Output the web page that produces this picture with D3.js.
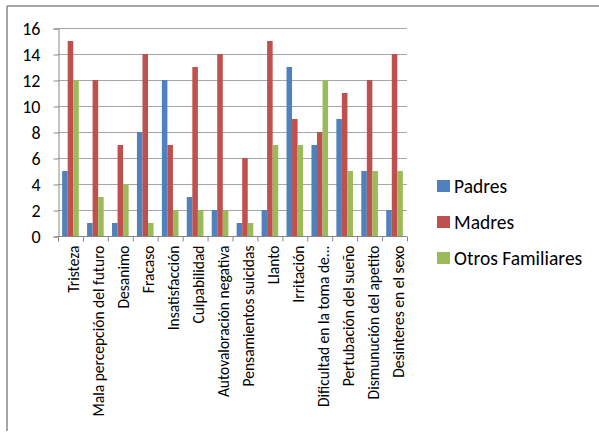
<!DOCTYPE html>
<html>
<head>
<meta charset="utf-8">
<script src="https://cdn.jsdelivr.net/npm/d3@7"></script>
<style>
  body { margin: 0; background: #fff; }
  text { font-family: Carlito, "Open Sans", "Noto Sans", sans-serif; fill: #000; }
</style>
</head>
<body>
<svg id="drawing_region"></svg>
<script>
const categories = ["Tristeza", "Mala percepción del futuro", "Desanimo", "Fracaso", "Insatisfacción",
    "Culpabilidad", "Autovaloración negativa", "Pensamientos suicidas", "Llanto", "Irritación",
    "Dificultad en la toma de...", "Pertubación del sueño", "Dismunución del apetito", "Desinteres en el sexo"];
const seriesNames = ["Padres", "Madres", "Otros Familiares"];
const padres = [5, 1, 1, 8, 12, 3, 2, 1, 2, 13, 7, 9, 5, 2];
const madres = [15, 12, 7, 14, 7, 13, 14, 6, 15, 9, 8, 11, 12, 14];
const otros = [12, 3, 4, 1, 2, 2, 2, 1, 7, 7, 12, 5, 5, 5];
const yTicks = [0, 2, 4, 6, 8, 10, 12, 14, 16];
const colors = ["#4F81BD", "#C0504D", "#9BBB59"];

const config = { width: 599, height: 433, left: 58, right: 407, top: 28, bottom: 236 };

const data = categories.map((c, i) => ({ cat: c, values: [padres[i], madres[i], otros[i]] }));

const svg = d3.select('#drawing_region')
    .attr('width', config.width)
    .attr('height', config.height);

// outer frame (top + left only visible)
svg.append('line').attr('x1', 7).attr('x2', 599).attr('y1', 6).attr('y2', 6)
    .attr('stroke', '#888').attr('stroke-width', 1.5);
svg.append('line').attr('x1', 7).attr('x2', 7).attr('y1', 6).attr('y2', 431)
    .attr('stroke', '#888').attr('stroke-width', 1.5);

const x0 = d3.scaleBand()
    .domain(categories)
    .range([config.left, config.right]);

const x1 = d3.scaleBand()
    .domain(seriesNames)
    .range([0, x0.bandwidth()])
    .paddingInner(0)
    .paddingOuter(0.75);

const y = d3.scaleLinear()
    .domain([0, 16])
    .range([config.bottom, config.top]);

// gridlines
svg.append('g')
    .selectAll('line')
    .data(yTicks.filter(d => d > 0))
    .join('line')
    .attr('x1', config.left).attr('x2', config.right)
    .attr('y1', d => y(d) + 0.5).attr('y2', d => y(d) + 0.5)
    .attr('stroke', '#a6a6a6');

// y axis
const yAxis = svg.append('g')
    .attr('transform', `translate(${config.left + 0.5},0.5)`)
    .call(d3.axisLeft(y).tickValues(yTicks).tickSize(5).tickPadding(13));
yAxis.select('.domain').attr('stroke', '#888');
yAxis.selectAll('.tick line').attr('stroke', '#888');
yAxis.selectAll('text').style('font-size', '18px').attr('fill', '#000');

// bars
const groups = svg.append('g')
    .selectAll('g')
    .data(data)
    .join('g')
    .attr('transform', d => `translate(${x0(d.cat)},0)`);

groups.selectAll('rect')
    .data(d => d.values.map((v, k) => ({ key: seriesNames[k], value: v, k: k })))
    .join('rect')
    .attr('x', d => x1(d.key))
    .attr('width', x1.bandwidth())
    .attr('y', d => y(d.value))
    .attr('height', d => y(0) - y(d.value))
    .attr('fill', d => colors[d.k]);

// x axis
const xAxis = svg.append('g')
    .attr('transform', `translate(0,${config.bottom + 0.5})`);
xAxis.append('line')
    .attr('x1', config.left).attr('x2', config.right)
    .attr('stroke', '#888');
xAxis.selectAll('.tk')
    .data(categories.concat(['end']))
    .join('line')
    .attr('class', 'tk')
    .attr('x1', (d, i) => config.left + i * x0.step() + 0.5)
    .attr('x2', (d, i) => config.left + i * x0.step() + 0.5)
    .attr('y1', 0).attr('y2', 5)
    .attr('stroke', '#888');
xAxis.selectAll('text')
    .data(categories)
    .join('text')
    .attr('transform', d => `translate(${x0(d) + x0.bandwidth() / 2 + 9},9) rotate(-90)`)
    .attr('text-anchor', 'end')
    .style('font-size', '15.5px')
    .text(d => d);

// legend
const legend = svg.append('g')
    .attr('transform', 'translate(437,0)');
const items = legend.selectAll('g')
    .data(seriesNames)
    .join('g')
    .attr('transform', (d, i) => `translate(0,${186 + i * 36})`);
items.append('rect')
    .attr('x', 0).attr('y', -6)
    .attr('width', 13).attr('height', 12)
    .attr('fill', (d, i) => colors[i]);
items.append('text')
    .attr('x', 17).attr('y', 7)
    .style('font-size', '19.5px')
    .text(d => d);
</script>
</body>
</html>
